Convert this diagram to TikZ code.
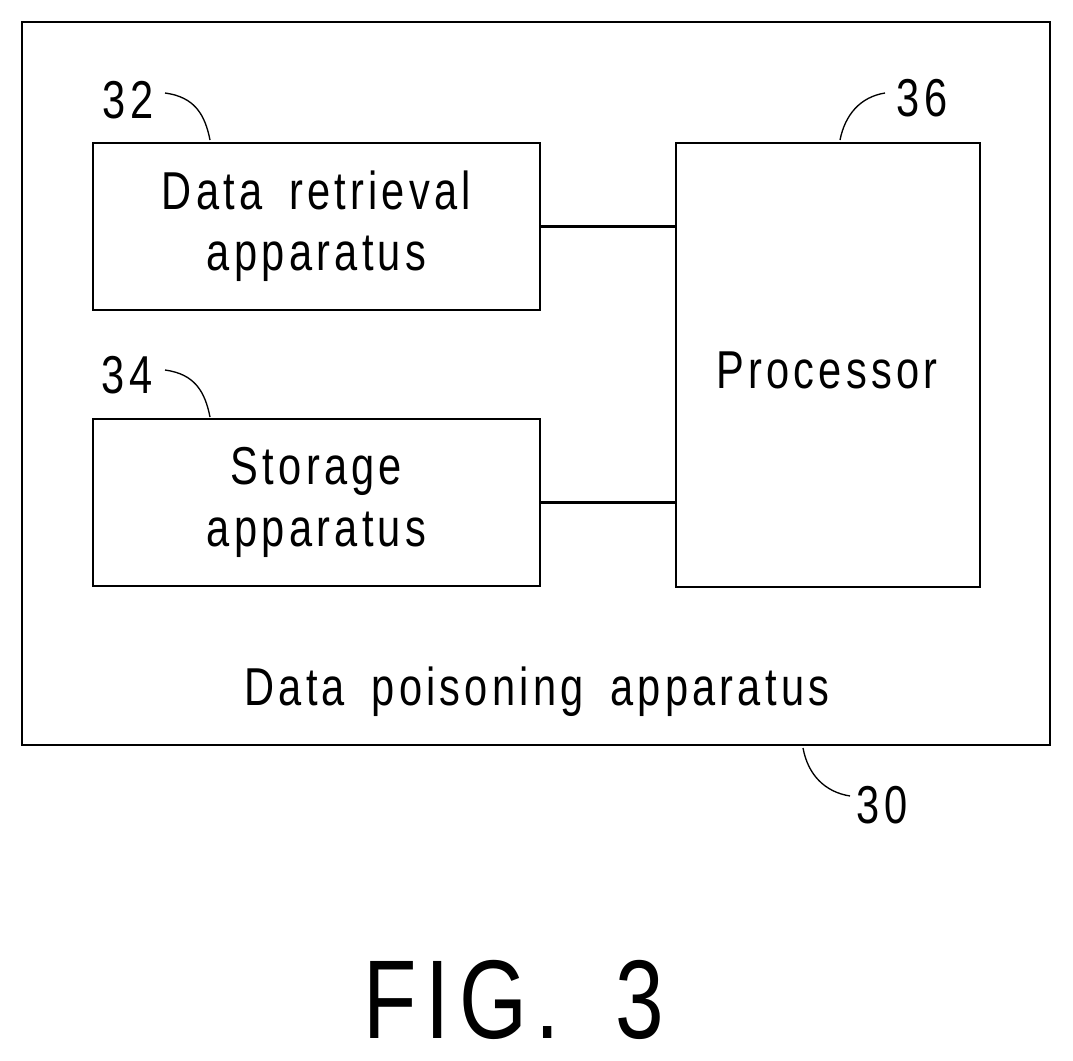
\documentclass[tikz,border=0pt]{standalone}
\usepackage{fontspec}
\setmainfont{Liberation Sans}[FakeStretch=0.78,LetterSpace=8]
\begin{document}
\begin{tikzpicture}[x=0.75pt,y=-0.75pt,line width=1.6pt,
 box/.style={draw,line width=2pt},
 txt/.style={font=\fontsize{40}{46}\selectfont,align=center},
 lbl/.style={font=\fontsize{40}{48}\selectfont},
 lead/.style={line width=1pt}]
\useasboundingbox (0,0) rectangle (1073,1060);
\draw[box] (22,22) rectangle (1050,745);
\node[box,minimum width=447*0.75pt,minimum height=167*0.75pt,txt] (a) at (316.5,226.5) {Data\hspace{0.2em} retrieval\\apparatus};
\node[box,minimum width=447*0.75pt,minimum height=167*0.75pt,txt] (s) at (316.5,502.5) {Storage\\apparatus};
\node[box,minimum width=304*0.75pt,minimum height=444*0.75pt,txt] (p) at (828,365) {};
\node[txt] at (827,370) {Processor};
\draw (a.east) -- (a.east -| p.west);
\draw (s.east) -- (s.east -| p.west);
\node[txt] (dp) at (537,692) {Data\hspace{0.2em} poisoning\hspace{0.2em} apparatus};
\node[lbl] (l32) at (128,100) {32};
\node[lbl] (l34) at (127,375) {34};
\node[lbl] (l36) at (922,98) {36};
\node[lbl] (l30) at (882,805) {30};
\draw[lead] (165,93) .. controls (195,97) and (205,115) .. (210,140);
\draw[lead] (165,370) .. controls (195,374) and (205,392) .. (210,417);
\draw[lead] (885,93) .. controls (860,97) and (845,115) .. (840,140);
\draw[lead] (850,796) .. controls (825,792) and (808,775) .. (803,748);
\node[font=\fontsize{84}{90}\selectfont] (fig) at (514,1000) {FIG.\hspace{0.2em} 3};
\end{tikzpicture}
\end{document}
